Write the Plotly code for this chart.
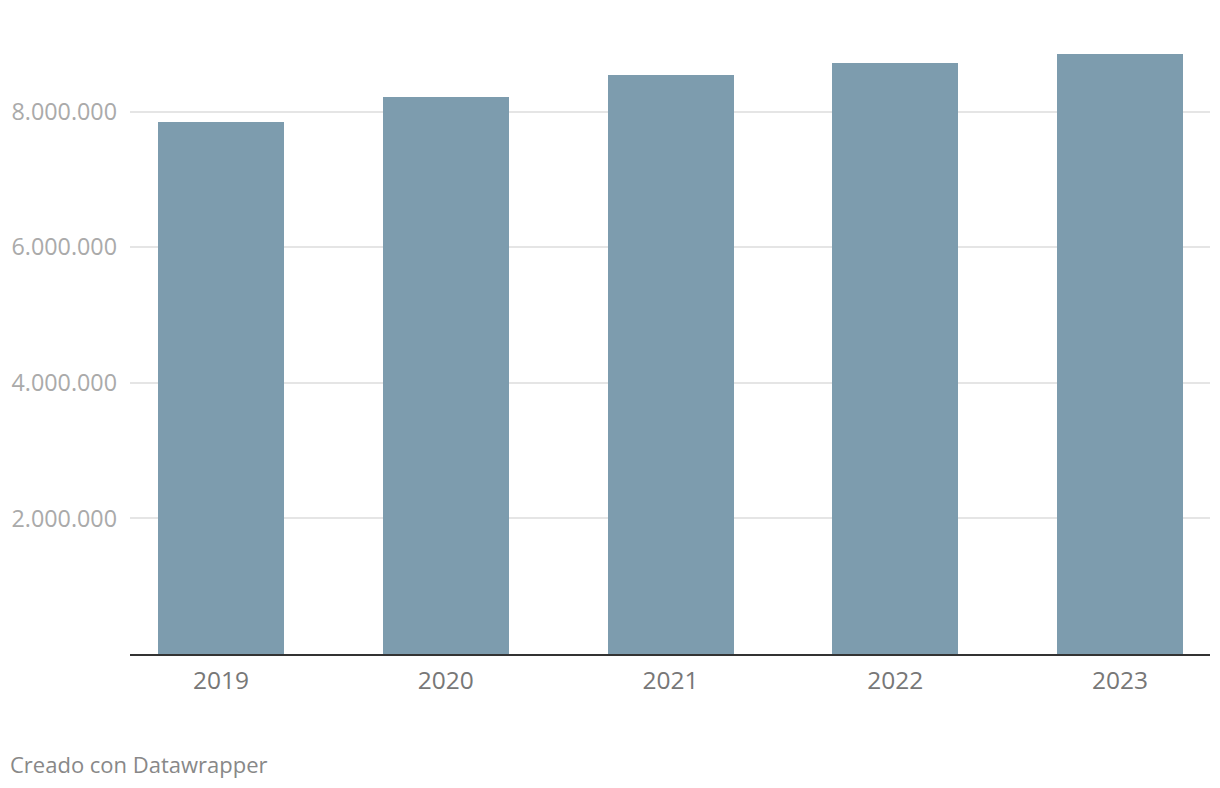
import plotly.graph_objects as go

years = ["2019", "2020", "2021", "2022", "2023"]
values = [7850000, 8220000, 8540000, 8720000, 8850000]
ytick_vals = [2000000, 4000000, 6000000, 8000000]
ytick_text = ["2.000.000", "4.000.000", "6.000.000", "8.000.000"]

W, H = 1220, 788
# page body has an 8px offset; margins are compensated for it
ml, mr, mt, mb = 122, 18, 36, 142
pw, ph = W - ml - mr, H - mt - mb

fig = go.Figure()
fig.add_trace(go.Bar(
    x=years, y=values, width=0.56,
    marker=dict(color="#7d9cae", line=dict(width=0)),
    hoverinfo="x+y",
))

fig.update_layout(
    width=W, height=H,
    margin=dict(l=ml, r=mr, t=mt, b=mb, pad=0, autoexpand=False),
    paper_bgcolor="white", plot_bgcolor="white",
    font=dict(family="Open Sans", size=23, color="#888888"),
    showlegend=False,
    bargap=0,
    xaxis=dict(
        type="category", range=[-0.405, 4.40], automargin=False,
        showgrid=False, showline=True, linecolor="#333333", linewidth=2,
        ticks="", tickfont=dict(size=24.5, color="#777777"),
        ticklabelstandoff=4, fixedrange=True,
    ),
    yaxis=dict(
        range=[0, 9000000], tickvals=ytick_vals, ticktext=ytick_text,
        automargin=False,
        showgrid=True, gridcolor="#e5e5e5", gridwidth=1.5,
        zeroline=False, showline=False, ticks="",
        tickfont=dict(size=23.3, color="#aaaaaa"),
        ticklabelstandoff=12, fixedrange=True,
    ),
    annotations=[dict(
        text="Creado con Datawrapper", showarrow=False,
        xref="paper", yref="paper",
        x=(0 - ml) / pw, y=(646 - 756) / ph,
        xanchor="left", yanchor="middle",
        font=dict(family="Open Sans", size=22, color="#888888"),
    )],
)

fig.write_html("out.html", config={"displayModeBar": False})
